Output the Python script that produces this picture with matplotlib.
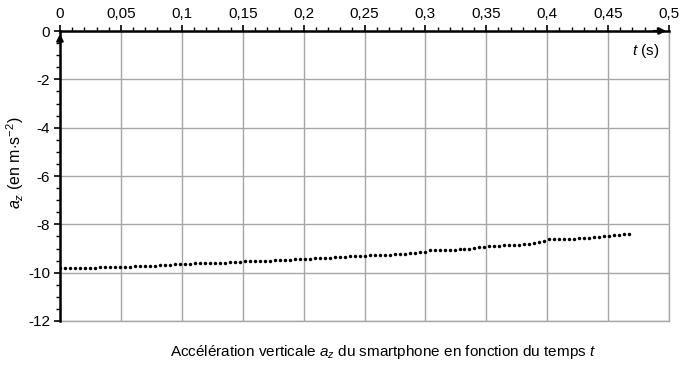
import numpy as np
import matplotlib
matplotlib.use("Agg")
import matplotlib.pyplot as plt
from matplotlib.ticker import MultipleLocator

plt.rcParams['font.family'] = ['Liberation Sans', 'DejaVu Sans']
plt.rcParams['mathtext.fontset'] = 'custom'
plt.rcParams['mathtext.rm'] = 'Liberation Sans'
plt.rcParams['mathtext.it'] = 'Liberation Sans:italic'

# sampling period of the smartphone accelerometer (s)
dt = 0.0041

# vertical acceleration a_z (m/s^2)
az = [-9.82, -9.82, -9.81, -9.81, -9.80, -9.80, -9.79, -9.79, -9.78, -9.78, -9.77, -9.77, -9.76,
      -9.75, -9.75, -9.74, -9.73, -9.72, -9.72, -9.71, -9.70, -9.68, -9.67, -9.66, -9.64,
      -9.63, -9.63, -9.62, -9.62, -9.61, -9.60, -9.60, -9.59, -9.58, -9.57, -9.56, -9.55, -9.53,
      -9.53, -9.52, -9.52, -9.51, -9.50, -9.49, -9.48, -9.47, -9.46, -9.45, -9.43, -9.42,
      -9.42, -9.41, -9.40, -9.39, -9.38, -9.37, -9.35, -9.34, -9.33, -9.32, -9.30, -9.29,
      -9.28, -9.28, -9.27, -9.26, -9.25, -9.24, -9.23, -9.21, -9.19, -9.17, -9.15, -9.13,
      -9.08, -9.07, -9.06, -9.06, -9.05, -9.05, -9.04, -9.03, -9.01, -8.98, -8.95, -8.92,
      -8.90, -8.89, -8.88, -8.87, -8.86, -8.85, -8.84, -8.83, -8.81, -8.79, -8.73, -8.68,
      -8.62, -8.62, -8.61, -8.61, -8.60, -8.59, -8.58, -8.57, -8.56, -8.54, -8.52, -8.50,
      -8.48, -8.46, -8.44, -8.41, -8.38]
t = np.arange(len(az)) * dt

x_ticks = [0, 0.05, 0.1, 0.15, 0.2, 0.25, 0.3, 0.35, 0.4, 0.45, 0.5]
x_labels = ['0', '0,05', '0,1', '0,15', '0,2', '0,25', '0,3', '0,35', '0,4', '0,45', '0,5']
y_ticks = [0, -2, -4, -6, -8, -10, -12]
y_labels = ['0', '-2', '-4', '-6', '-8', '-10', '-12']

fig = plt.figure(figsize=(6.89, 3.65), dpi=100)
ax = fig.add_axes([60 / 689, 1 - 321 / 365, 609 / 689, 290 / 365])

ax.plot(t, az, 'o', color='black', ms=2.5, mec='none', zorder=3)

ax.set_xlim(0, 0.5)
ax.set_ylim(-12, 0)

ax.xaxis.tick_top()
ax.set_xticks(x_ticks)
ax.set_xticklabels(x_labels)
ax.xaxis.set_minor_locator(MultipleLocator(0.01))
ax.set_yticks(y_ticks)
ax.set_yticklabels(y_labels)
ax.yaxis.set_minor_locator(MultipleLocator(0.5))

ax.tick_params(axis='both', which='major', direction='out', length=4, width=1.2,
               labelsize=11, color='black', pad=3)
ax.tick_params(axis='both', which='minor', direction='out', length=3, width=1.0, color='black')

ax.grid(True, which='major', color='#a6a6a6', lw=1.0)
ax.set_axisbelow(True)

for side in ['bottom', 'right']:
    ax.spines[side].set_color('#a6a6a6')
    ax.spines[side].set_linewidth(1.0)
for side in ['top', 'left']:
    ax.spines[side].set_color('black')
    ax.spines[side].set_linewidth(1.8)
    ax.spines[side].set_zorder(4)

# arrow heads on the axes
ax.annotate('', xy=(1.0, 1.0), xytext=(0.97, 1.0), xycoords='axes fraction',
            arrowprops=dict(arrowstyle='-|>', color='black', lw=1.5, mutation_scale=10),
            annotation_clip=False)
ax.annotate('', xy=(0.0, 1.0), xytext=(0.0, 0.95), xycoords='axes fraction',
            arrowprops=dict(arrowstyle='-|>', color='black', lw=1.5, mutation_scale=10),
            annotation_clip=False)

fig.text(646 / 689, 1 - 51 / 365, r'$t$ (s)', fontsize=11, ha='center', va='center')
fig.text(15 / 689, 1 - 163 / 365, r'$a_z$ (en m$\cdot$s$^{-2}$)', fontsize=11.5,
         rotation=90, ha='center', va='center')
fig.text(383 / 689, 1 - 352 / 365,
         r'Accélération verticale $a_z$ du smartphone en fonction du temps $t$',
         fontsize=11, ha='center', va='center')

fig.savefig('out.png', dpi=100)
